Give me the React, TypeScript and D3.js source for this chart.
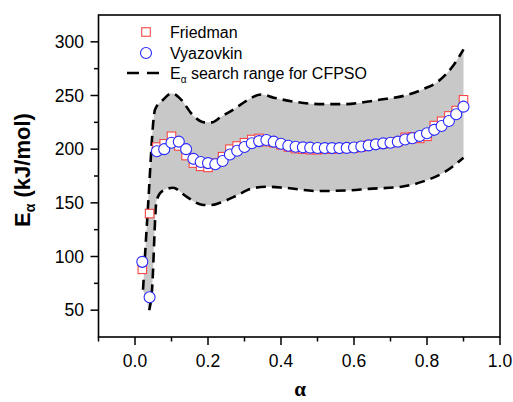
import React from 'react';
import * as d3 from 'd3';

const alpha = [0.02, 0.04, 0.06, 0.08, 0.10, 0.12, 0.14, 0.16, 0.18, 0.20, 0.22, 0.24, 0.26, 0.28, 0.30, 0.32, 0.34, 0.36, 0.38, 0.40, 0.42, 0.44, 0.46, 0.48, 0.50, 0.52, 0.54, 0.56, 0.58, 0.60, 0.62, 0.64, 0.66, 0.68, 0.70, 0.72, 0.74, 0.76, 0.78, 0.80, 0.82, 0.84, 0.86, 0.88, 0.90];
const friedman = [88, 140, 202, 205, 212, 203, 194, 187, 184, 183, 187, 193, 200, 203, 206, 209, 210, 207, 206, 204, 202, 200.5, 200, 199.5, 199.5, 200, 200, 200.5, 201, 201, 202, 204, 204.5, 205, 206, 207, 211, 211.5, 210, 212, 222, 226, 231, 236, 246];
const vyazovkin = [95, 62, 198, 200, 206, 207, 200, 191, 188, 187, 186, 189, 195, 198.5, 202, 205.5, 207.5, 208.5, 207, 205, 203.2, 202.3, 201.7, 201.4, 201.1, 201, 201, 201, 201.2, 201.5, 202.5, 203.5, 204.5, 205.4, 206, 207, 209, 210.2, 212.3, 214.8, 218, 221.6, 226.2, 232.5, 239.6];

const upperAlpha = [0.022, 0.035, 0.055, 0.077, 0.10, 0.127, 0.155, 0.19, 0.21, 0.235, 0.27, 0.31, 0.345, 0.38, 0.44, 0.51, 0.58, 0.63, 0.67, 0.74, 0.79, 0.83, 0.87, 0.90];
const upperE = [69, 143, 237, 246, 252, 246, 233, 225, 225, 230, 237, 246, 251, 248, 244, 242, 242, 244, 246, 250, 256, 263, 277, 293];
const lowerAlpha = [0.039, 0.046, 0.059, 0.075, 0.104, 0.14, 0.187, 0.21, 0.233, 0.28, 0.316, 0.36, 0.41, 0.50, 0.58, 0.64, 0.73, 0.79, 0.85, 0.90];
const lowerE = [50, 66, 152, 161, 164, 156, 148, 148, 150, 157, 163, 165, 164, 161, 161.5, 163, 165, 170, 179, 192];

const xTicks = [0.0, 0.2, 0.4, 0.6, 0.8, 1.0];
const xTickLabels = ['0.0', '0.2', '0.4', '0.6', '0.8', '1.0'];
const xMinorTicks = [-0.1, 0.1, 0.3, 0.5, 0.7, 0.9];
const yTicks = [50, 100, 150, 200, 250, 300];
const yTickLabels = ['50', '100', '150', '200', '250', '300'];
const yMinorTicks = [75, 125, 175, 225, 275];

const legendLabels = ['Friedman', 'Vyazovkin'];

const W = 513;
const H = 402;
const left = 98.5;
const right = 500;
const top = 15;
const bottom = 337;

const FONT = '"Liberation Sans", Arial, Helvetica, sans-serif';
const RED = 'rgb(250,70,70)';
const BLUE = 'rgb(40,40,255)';
const GRAY = 'rgb(200,200,200)';

export default function App() {
  const x = d3.scaleLinear().domain([-0.1, 1.0]).range([left, right]);
  const y = d3.scaleLinear().domain([25, 325]).range([bottom, top]);

  const upperPts: [number, number][] = upperAlpha.map((a, i) => [x(a), y(upperE[i])]);
  const lowerPts: [number, number][] = lowerAlpha.map((a, i) => [x(a), y(lowerE[i])]);

  const lineGen = d3.line<[number, number]>().x(d => d[0]).y(d => d[1]).curve(d3.curveMonotoneX);
  const upperPath = lineGen(upperPts) || '';
  const lowerPath = lineGen(lowerPts) || '';
  const lowerRevPath = lineGen(lowerPts.slice().reverse()) || '';
  const fillPath = upperPath + 'L' + lowerRevPath.slice(1) + 'Z';

  const sq = 8.5;
  const r = 5.5;

  return (
    <svg width={W} height={H} style={{ position: 'absolute', left: 0, top: 0, background: '#fff' }}>
      <rect x={0} y={0} width={W} height={H} fill="#fff" />
      {/* band */}
      <path d={fillPath} fill={GRAY} stroke="none" />
      <path d={upperPath} fill="none" stroke="#000" strokeWidth={2.6} strokeDasharray="10,6" />
      <path d={lowerPath} fill="none" stroke="#000" strokeWidth={2.6} strokeDasharray="10,6" />

      {/* Friedman squares */}
      {alpha.map((a, i) => (
        <rect key={'f' + i} x={x(a) - sq / 2} y={y(friedman[i]) - sq / 2} width={sq} height={sq}
          fill="#fff" stroke={RED} strokeWidth={1.1} />
      ))}
      {/* Vyazovkin circles */}
      {alpha.map((a, i) => (
        <circle key={'v' + i} cx={x(a)} cy={y(vyazovkin[i])} r={r}
          fill="#fff" stroke={BLUE} strokeWidth={1.1} />
      ))}

      {/* frame */}
      <rect x={left} y={top} width={right - left} height={bottom - top} fill="none" stroke="#000" strokeWidth={1.6} />

      {/* x ticks */}
      {xTicks.map((t, i) => (
        <g key={'xt' + i}>
          <line x1={x(t)} x2={x(t)} y1={bottom} y2={bottom + 8} stroke="#000" strokeWidth={1.5} />
          <text x={x(t)} y={366.5} textAnchor="middle" fontFamily={FONT} fontSize={17.5} fill="#000">{xTickLabels[i]}</text>
        </g>
      ))}
      {xMinorTicks.map((t, i) => (
        <line key={'xm' + i} x1={x(t)} x2={x(t)} y1={bottom} y2={bottom + 4.5} stroke="#000" strokeWidth={1.5} />
      ))}

      {/* y ticks */}
      {yTicks.map((t, i) => (
        <g key={'yt' + i}>
          <line x1={left - 8} x2={left} y1={y(t)} y2={y(t)} stroke="#000" strokeWidth={1.5} />
          <text x={84} y={y(t) + 6.2} textAnchor="end" fontFamily={FONT} fontSize={17.5} fill="#000">{yTickLabels[i]}</text>
        </g>
      ))}
      {yMinorTicks.map((t, i) => (
        <line key={'ym' + i} x1={left - 4.5} x2={left} y1={y(t)} y2={y(t)} stroke="#000" strokeWidth={1.5} />
      ))}

      {/* axis titles */}
      <text x={300} y={396} textAnchor="middle" fontFamily='"Liberation Serif", "Times New Roman", serif' fontWeight="bold" fontSize={21} fill="#000">α</text>
      <text transform="translate(29.5,170) rotate(-90)" textAnchor="middle" fontFamily={FONT} fontWeight="bold" fontSize={22} fill="#000">
        E<tspan fontSize={14} dy={5}>α</tspan><tspan dy={-5}> (kJ/mol)</tspan>
      </text>

      {/* legend */}
      <rect x={146 - sq / 2} y={32 - sq / 2} width={sq} height={sq} fill="#fff" stroke={RED} strokeWidth={1.1} />
      <text x={170} y={38} fontFamily={FONT} fontSize={16} fill="#000">{legendLabels[0]}</text>
      <circle cx={146} cy={53} r={r} fill="#fff" stroke={BLUE} strokeWidth={1.1} />
      <text x={170} y={58.5} fontFamily={FONT} fontSize={16} fill="#000">{legendLabels[1]}</text>
      <line x1={127} x2={159} y1={73} y2={73} stroke="#000" strokeWidth={2.6} strokeDasharray="12,8" />
      <text x={170} y={79} fontFamily={FONT} fontSize={16} fill="#000">
        E<tspan fontSize={10} dy={4}>α</tspan><tspan dy={-4}> search range for CFPSO</tspan>
      </text>
    </svg>
  );
}
